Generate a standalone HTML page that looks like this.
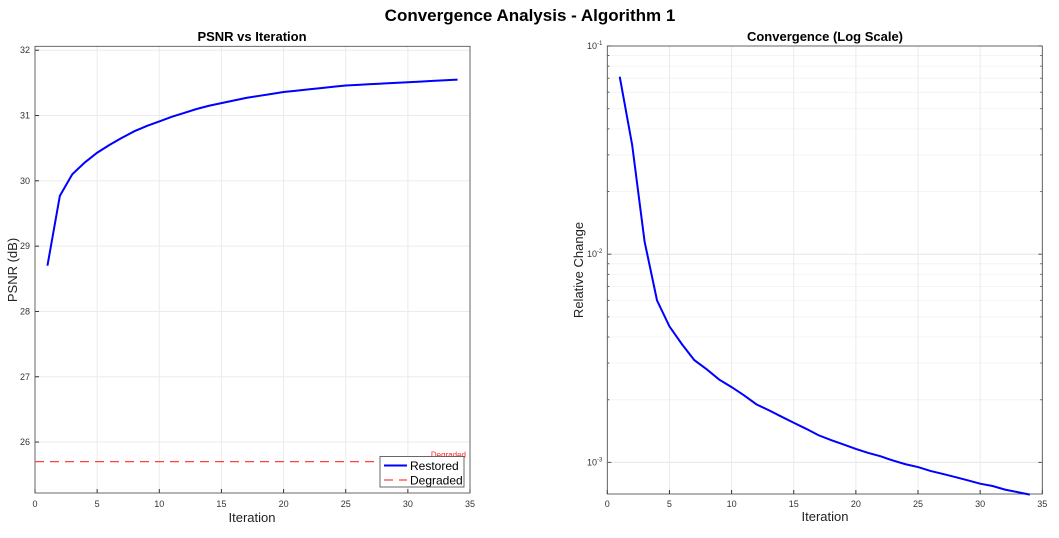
<!DOCTYPE html>
<html><head><meta charset="utf-8"><style>
body{margin:0;background:#fff;width:1059px;height:533px;overflow:hidden;font-family:"Liberation Sans",Arial,sans-serif}
svg text{font-family:"Liberation Sans",Arial,sans-serif}
</style></head><body>
<svg id="fig" width="1059" height="533" xmlns="http://www.w3.org/2000/svg">
<text x="530" y="21" text-anchor="middle" font-size="17" font-weight="bold">Convergence Analysis - Algorithm 1</text>
<g id="L"></g>
<g id="R"></g>
</svg>
<script>
const iters=[1,2,3,4,5,6,7,8,9,10,11,12,13,14,15,16,17,18,19,20,21,22,23,24,25,26,27,28,29,30,31,32,33,34];
const psnr=[28.7,29.77,30.1,30.28,30.43,30.55,30.66,30.76,30.84,30.91,30.98,31.04,31.1,31.15,31.19,31.23,31.27,31.3,31.33,31.36,31.38,31.4,31.42,31.44,31.46,31.47,31.48,31.49,31.5,31.51,31.52,31.53,31.54,31.55];
const degradedPsnr=25.7;
const relChange=[0.0712,0.0335,0.0115,0.006,0.0045,0.0037,0.0031,0.0028,0.0025,0.0023,0.0021,0.0019,0.00178,0.00166,0.00155,0.00145,0.00135,0.00128,0.00122,0.00116,0.00111,0.00107,0.00102,0.00098,0.00095,0.00091,0.00088,0.00085,0.00082,0.00079,0.00077,0.00074,0.00072,0.0007];
const xTicks=[0,5,10,15,20,25,30,35];
const yTicksL=[26,27,28,29,30,31,32];
const yDecadesR=[-3,-2,-1];
const NS="http://www.w3.org/2000/svg";
function mk(p,t,a,txt){const e=document.createElementNS(NS,t);for(const k in a)e.setAttribute(k,a[k]);if(txt!==undefined)e.textContent=txt;p.appendChild(e);return e;}
// left axes
const L=document.getElementById('L');
const lx0=35,lx1=470,ly0=46.3,ly1=493,lymin=25.22,lymax=32.06;
const xL=v=>lx0+(v-0)/35*(lx1-lx0);
const yL=v=>ly1-(v-lymin)/(lymax-lymin)*(ly1-ly0);
mk(L,'rect',{x:lx0,y:ly0,width:lx1-lx0,height:ly1-ly0,fill:'#fff'});
xTicks.forEach(t=>{const X=xL(t);
 let g=mk(L,'line',{x1:X,x2:X,y1:ly0,y2:ly1,stroke:'#ebebeb','stroke-width':1});
 
 mk(L,'line',{x1:X,x2:X,y1:ly1,y2:ly1-4,stroke:'#333'});
 let tl=mk(L,'text',{x:X,y:ly1+14,'text-anchor':'middle','font-size':9,fill:'#333'},t);
 });
yTicksL.forEach(t=>{const Y=yL(t);
 let g=mk(L,'line',{x1:lx0,x2:lx1,y1:Y,y2:Y,stroke:'#ebebeb'});
 
 mk(L,'line',{x1:lx0,x2:lx0+4,y1:Y,y2:Y,stroke:'#333'});
 let tl=mk(L,'text',{x:lx0-5,y:Y+3,'text-anchor':'end','font-size':9,fill:'#333'},t);
 });
mk(L,'rect',{x:lx0,y:ly0,width:lx1-lx0,height:ly1-ly0,fill:'none',stroke:'#444','stroke-width':0.8});
let dl=mk(L,'line',{x1:lx0,x2:lx1,y1:yL(degradedPsnr),y2:yL(degradedPsnr),stroke:'#ff4040','stroke-width':1.3,'stroke-dasharray':'9,6'});

let dt=mk(L,'text',{x:466,y:yL(degradedPsnr)-4,'text-anchor':'end','font-size':8,fill:'#ff2020'},'Degraded');

let pl=mk(L,'polyline',{points:iters.map((x,i)=>xL(x)+','+yL(psnr[i])).join(' '),fill:'none',stroke:'#0000ff','stroke-width':2});

let t1=mk(L,'text',{x:252,y:41,'text-anchor':'middle','font-size':13,'font-weight':'bold'},'PSNR vs Iteration');

let xt=mk(L,'text',{x:252,y:522,'text-anchor':'middle','font-size':13,fill:'#222'},'Iteration');

let yt=mk(L,'text',{x:17,y:270,'text-anchor':'middle','font-size':13,fill:'#222',transform:'rotate(-90 17 270)'},'PSNR (dB)');

const lg=mk(L,'g',{});
mk(lg,'rect',{x:380,y:456.5,width:84,height:30.5,fill:'#fff',stroke:'#444','stroke-width':0.8});
mk(lg,'line',{x1:384,x2:407,y1:465.5,y2:465.5,stroke:'#0000ff','stroke-width':2});
mk(lg,'text',{x:410,y:470,'font-size':12},'Restored');
mk(lg,'line',{x1:384,x2:407,y1:480,y2:480,stroke:'#ff4040','stroke-width':1.3,'stroke-dasharray':'9,6'});
mk(lg,'text',{x:410,y:484.5,'font-size':12},'Degraded');
// right axes
const R=document.getElementById('R');
const rx0=607.3,rx1=1042.3,ry0=46,ry1=494,lmin=Math.log10(7.05e-4),lmax=-1;
const xR=v=>rx0+v/35*(rx1-rx0);
const yR=v=>ry1-(Math.log10(v)-lmin)/(lmax-lmin)*(ry1-ry0);
mk(R,'rect',{x:rx0,y:ry0,width:rx1-rx0,height:ry1-ry0,fill:'#fff'});
yDecadesR.forEach(d=>{for(let m=1;m<10;m++){const v=m*Math.pow(10,d);if(v<7.05e-4||v>0.1001)continue;const Y=yR(v);
 let g=mk(R,'line',{x1:rx0,x2:rx1,y1:Y,y2:Y,stroke:m===1?'#e6e6e6':'#f4f4f4'});
 
 mk(R,'line',{x1:rx0,x2:rx0+(m===1?4:2),y1:Y,y2:Y,stroke:'#555'});
 mk(R,'line',{x1:rx1,x2:rx1-(m===1?4:2),y1:Y,y2:Y,stroke:'#555'});}
 const Y=yR(Math.pow(10,d));
 let tl=mk(R,'text',{x:rx0-5,y:Y+3,'text-anchor':'end','font-size':9,fill:'#333'},'10');
 const s=mk(tl,'tspan',{dy:-4,'font-size':6},String(d));
 });
xTicks.forEach(t=>{const X=xR(t);
 let g=mk(R,'line',{x1:X,x2:X,y1:ry0,y2:ry1,stroke:'#ebebeb'});
 
 mk(R,'line',{x1:X,x2:X,y1:ry1,y2:ry1-4,stroke:'#333'});
 let tl=mk(R,'text',{x:X,y:ry1+13,'text-anchor':'middle','font-size':9,fill:'#333'},t);
 });
mk(R,'rect',{x:rx0,y:ry0,width:rx1-rx0,height:ry1-ry0,fill:'none',stroke:'#444','stroke-width':0.8});
let rl=mk(R,'polyline',{points:iters.map((x,i)=>xR(x)+','+yR(relChange[i])).join(' '),fill:'none',stroke:'#0000ff','stroke-width':2});

let t2=mk(R,'text',{x:825,y:41,'text-anchor':'middle','font-size':13,'font-weight':'bold'},'Convergence (Log Scale)');

let xt2=mk(R,'text',{x:825,y:521,'text-anchor':'middle','font-size':13,fill:'#222'},'Iteration');

let yt2=mk(R,'text',{x:583,y:270,'text-anchor':'middle','font-size':13,fill:'#222',transform:'rotate(-90 583 270)'},'Relative Change');

</script>
</body></html>
